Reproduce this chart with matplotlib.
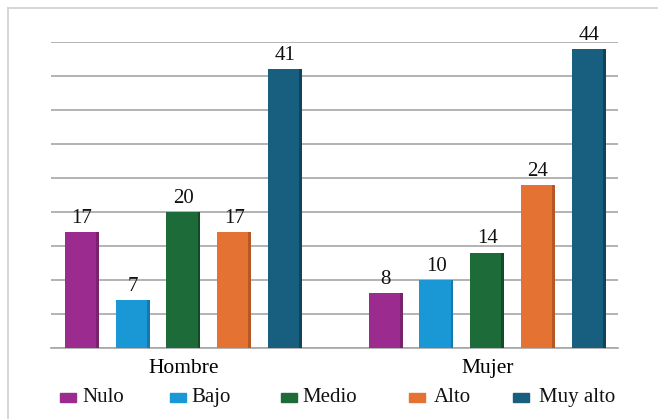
import numpy as np
import matplotlib
matplotlib.use("Agg")
import matplotlib.pyplot as plt
from matplotlib.patches import Rectangle
from matplotlib.lines import Line2D

plt.rcParams["font.family"] = ["Liberation Serif", "DejaVu Serif"]

# Data
groups = ["Hombre", "Mujer"]
series = ["Nulo", "Bajo", "Medio", "Alto", "Muy alto"]
values = {
    "Nulo": [17, 8],
    "Bajo": [7, 10],
    "Medio": [20, 14],
    "Alto": [17, 24],
    "Muy alto": [41, 44],
}
colors = ["#9b2b8f", "#1a98d5", "#1d6b39", "#e47232", "#185e7e"]
side_colors = ["#7a2170", "#1579ab", "#134a27", "#b65826", "#10445c"]

fig = plt.figure(figsize=(6.58, 4.19), dpi=100)
ax = fig.add_axes([0.0775, 0.1706, 0.861, 0.7284])

x = np.arange(len(groups))
step = 0.167
width = 0.112
side = 0.009

for i, name in enumerate(series):
    pos = x + (i - 2) * step
    vals = values[name]
    ax.bar(pos, vals, width=width, color=colors[i], zorder=3)
    # darker right face for the bevelled look
    ax.bar(pos + width / 2 - side / 2, vals, width=side, color=side_colors[i], zorder=4)
    for px, v in zip(pos, vals):
        ax.annotate(str(v), (px, v), xytext=(0, 3), textcoords="offset points",
                    ha="center", va="bottom", fontsize=15, color="#111111")

ax.set_xlim(-0.436, 1.429)
ax.set_ylim(0, 45)
ax.set_yticks(np.arange(0, 46, 5))
ax.yaxis.grid(True, color="#a6a6a6", linewidth=1.2, zorder=0)
ax.set_axisbelow(True)
ax.tick_params(axis="y", left=False, labelleft=False)
ax.set_xticks(x)
ax.set_xticklabels(groups, fontsize=15.5)
ax.tick_params(axis="x", length=0, pad=8)
for s in ["top", "right", "left"]:
    ax.spines[s].set_visible(False)
ax.spines["bottom"].set_color("#a6a6a6")
ax.spines["bottom"].set_linewidth(1.2)

# Legend row (swatch and label positions in pixels)
W, H = 658.0, 419.0
swatch_x = [60, 170, 281, 409, 513]
label_x = [82, 191, 302, 434, 539]
for i, name in enumerate(series):
    fig.add_artist(Rectangle((swatch_x[i] / W, (H - 402.3) / H), 16 / W, 9.7 / H,
                             transform=fig.transFigure, color=colors[i]))
    fig.text(label_x[i] / W, (H - 402.3) / H, name, fontsize=15,
             va="baseline", ha="left", color="#111111")

# Chart frame
fig.add_artist(Line2D([7.5 / W, 7.5 / W], [0, (H - 8) / H], transform=fig.transFigure,
                      color="#d0d0d0", linewidth=1.2))
fig.add_artist(Line2D([7.5 / W, 1], [(H - 8) / H, (H - 8) / H], transform=fig.transFigure,
                      color="#d0d0d0", linewidth=1.2))

fig.savefig("out.png", dpi=100)
